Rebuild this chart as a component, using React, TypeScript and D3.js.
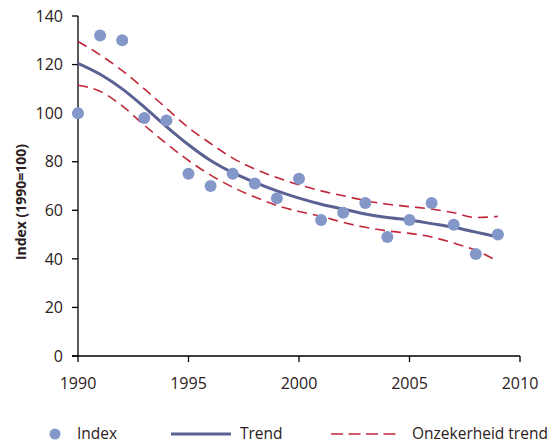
import React from "react";
import * as d3 from "d3";

const years = [1990,1991,1992,1993,1994,1995,1996,1997,1998,1999,2000,2001,2002,2003,2004,2005,2006,2007,2008,2009];
const indexValues = [100,132,130,98,97,75,70,75,71,65,73,56,59,63,49,56,63,54,42,50];
const trendValues = [120.5,116,110,102.5,94.5,87,80.5,75.5,71.5,68,65,62.5,60.5,58.5,57,56,54.5,53,51,49];
const upperValues = [129.5,124,117.5,110,102,94,87.5,81.5,77,73.5,70.5,68,66,64,62.5,61.5,60.5,59,57,57.5];
const lowerValues = [111.5,109,103,95,87.5,80.5,74.5,69.5,65.5,62,59.5,57.5,55,53,51.5,50.5,49,46.5,43.5,39];
const xTicks = [1990,1995,2000,2005,2010];
const yTicks = [0,20,40,60,80,100,120,140];

const FONT = "'Open Sans', sans-serif";
const TEXT = "#2b2021";
const DOT = "#8497c9";
const TREND = "#5a6193";
const RED = "#c0283a";

export default function App() {
  const x = d3.scaleLinear().domain([1990, 2010]).range([78, 520]);
  const y = d3.scaleLinear().domain([0, 140]).range([356, 16]);
  const line = (vals: number[]) =>
    d3.line<number>().x((_, i) => x(years[i])).y((d) => y(d)).curve(d3.curveMonotoneX)(vals) || "";

  return (
    <svg width={554} height={443} style={{ position: "absolute", left: 0, top: 0, background: "#fff" }}>
      {/* axes */}
      <line x1={78} x2={78} y1={16} y2={356} stroke="#000" strokeWidth={1.3} />
      <line x1={72} x2={520} y1={356} y2={356} stroke="#000" strokeWidth={1.3} />
      {yTicks.map((t) => (
        <g key={"y" + t}>
          <line x1={72} x2={78} y1={y(t)} y2={y(t)} stroke="#000" strokeWidth={1.3} />
          <text x={63} y={y(t)} dy="0.36em" textAnchor="end" fontFamily={FONT} fontSize={16} fill={TEXT}>{t}</text>
        </g>
      ))}
      {xTicks.map((t) => (
        <g key={"x" + t}>
          <line x1={x(t)} x2={x(t)} y1={356} y2={362} stroke="#000" strokeWidth={1.3} />
          <text x={x(t)} y={389} textAnchor="middle" fontFamily={FONT} fontSize={16} fill={TEXT}>{t}</text>
        </g>
      ))}
      <text transform="translate(26,202) rotate(-90)" textAnchor="middle" fontFamily={FONT} fontSize={14} fontWeight="bold" fill={TEXT}>
        Index (1990=100)
      </text>

      {/* series */}
      <path d={line(upperValues)} fill="none" stroke={RED} strokeWidth={1.6} strokeDasharray="10,6" />
      <path d={line(lowerValues)} fill="none" stroke={RED} strokeWidth={1.6} strokeDasharray="10,6" />
      <path d={line(trendValues)} fill="none" stroke={TREND} strokeWidth={3} />
      {indexValues.map((v, i) => (
        <circle key={i} cx={x(years[i])} cy={y(v)} r={6} fill={DOT} />
      ))}

      {/* legend */}
      <circle cx={55} cy={434} r={5.5} fill={DOT} />
      <text x={77} y={439} fontFamily={FONT} fontSize={15.5} fill={TEXT}>Index</text>
      <line x1={171} x2={231} y1={434} y2={434} stroke={TREND} strokeWidth={3} />
      <text x={240} y={439} fontFamily={FONT} fontSize={15.5} fill={TEXT}>Trend</text>
      <line x1={331} x2={396} y1={434} y2={434} stroke={RED} strokeWidth={1.6} strokeDasharray="12,5.5" />
      <text x={412} y={439} fontFamily={FONT} fontSize={15.5} fill={TEXT}>Onzekerheid trend</text>
    </svg>
  );
}
